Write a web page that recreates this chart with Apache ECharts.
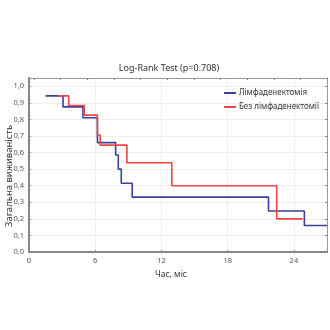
<!DOCTYPE html>
<html><head><meta charset="utf-8">
<script src="https://cdn.jsdelivr.net/npm/echarts@6/dist/echarts.min.js"></script>
<style>html,body{margin:0;padding:0;background:#fff}#c{width:330px;height:330px}</style>
</head><body><div id="c"></div>
<script>
const titleText = 'Log-Rank Test (p=0.708)';
const xName = 'Час, міс';
const yName = 'Загальна виживаність';
const seriesNames = ['Лімфаденектомія', 'Без лімфаденектомії'];
// Kaplan-Meier steps: times (months) and survival values
const blueTimes  = [1.5, 3.08, 4.89, 6.2, 7.85, 8.09, 8.36, 9.35, 21.7, 24.95, 27];
const blueValues = [0.942, 0.876, 0.81, 0.66, 0.585, 0.5, 0.415, 0.331, 0.247, 0.16, 0.16];
const redTimes   = [2.6, 3.6, 5.0, 6.2, 6.45, 8.87, 12.94, 22.45, 24.8];
const redValues  = [0.942, 0.884, 0.826, 0.705, 0.645, 0.539, 0.4, 0.2, 0.2];
const xTicks = [0, 6, 12, 18, 24];
const topTicks = [0.45, 2.87, 5.28, 7.7, 10.11, 12.53, 14.94, 17.36, 19.77, 22.19, 24.6, 27];
const rightTicks = [0, 0.1, 0.2, 0.3, 0.4, 0.5, 0.6, 0.7, 0.8, 0.9, 1.0];

const font = 'Noto Sans';
const chart = echarts.init(document.getElementById('c'), null, {renderer: 'canvas'});
const zip = (t, v) => t.map((x, i) => [x, v[i]]);
chart.setOption({
  animation: false,
  title: {text: titleText, left: 164, top: 59, textAlign: 'center',
    textStyle: {fontFamily: font, fontSize: 9, fontWeight: 'normal', color: '#333'}},
  legend: {right: 6, top: 84, orient: 'vertical', itemWidth: 12, itemHeight: 2, itemGap: 6,
    icon: 'rect',
    textStyle: {fontFamily: font, fontSize: 8, color: '#333', padding: [0,0,0,-2]},
    data: seriesNames},
  graphic: [{
    type: 'text', x: 9.5, y: 176, rotation: Math.PI / 2,
    style: {text: yName, align: 'center', verticalAlign: 'middle',
      fontFamily: font, fontSize: 9.5, fill: '#333'}
  }],
  grid: {left: 29, right: 3, top: 78, bottom: 78, containLabel: false, outerBoundsMode: 'none'},
  xAxis: [{
    type: 'value', min: 0, max: 27, interval: 6,
    name: xName, nameLocation: 'middle', nameGap: 17,
    nameTextStyle: {fontFamily: font, fontSize: 8.5, color: '#333', padding: [0, 14, 0, 0]},
    axisLine: {lineStyle: {color: '#888', width: 2}},
    axisTick: {inside: true, length: 2, lineStyle: {color: '#888'}},
    axisLabel: {fontFamily: font, fontSize: 7.5, color: '#555', margin: 5,
      formatter: v => xTicks.includes(v) ? String(v) : ''},
    splitLine: {show: true, lineStyle: {color: '#eeeeee', width: 1}}
  }, {
    type: 'value', min: 0, max: 27, position: 'top',
    axisLine: {show: true, onZero: false, lineStyle: {color: '#999', width: 1}},
    axisTick: {show: true, inside: true, length: 2, customValues: topTicks, lineStyle: {color: '#888'}},
    axisLabel: {show: false}, splitLine: {show: false}
  }],
  yAxis: [{
    type: 'value', min: 0, max: 1.05, interval: 0.1,
    axisLine: {show: true, lineStyle: {color: '#888', width: 2}},
    axisTick: {show: true, inside: true, length: 2, lineStyle: {color: '#888'}},
    axisLabel: {fontFamily: font, fontSize: 7.5, color: '#555', margin: 5,
      formatter: v => Math.abs(v * 10 - Math.round(v * 10)) < 1e-6 ? v.toFixed(1).replace('.', ',') : ''},
    splitLine: {show: true, lineStyle: {color: '#eeeeee', width: 1}}
  }, {
    type: 'value', min: 0, max: 1.05, position: 'right',
    axisLine: {show: true, onZero: false, lineStyle: {color: '#999', width: 1}},
    axisTick: {show: true, inside: true, length: 2, customValues: rightTicks, lineStyle: {color: '#888'}},
    axisLabel: {show: false}, splitLine: {show: false}
  }],
  series: [
    {name: seriesNames[0], type: 'line', step: 'end', showSymbol: false, symbol: 'none',
      color: '#3c3f9e', lineStyle: {width: 1.6, color: '#3c3f9e'},
      data: zip(blueTimes, blueValues)},
    {name: seriesNames[1], type: 'line', step: 'end', showSymbol: false, symbol: 'none',
      color: '#f04545', lineStyle: {width: 1.6, color: '#f04545'},
      data: zip(redTimes, redValues)}
  ]
});
</script></body></html>
